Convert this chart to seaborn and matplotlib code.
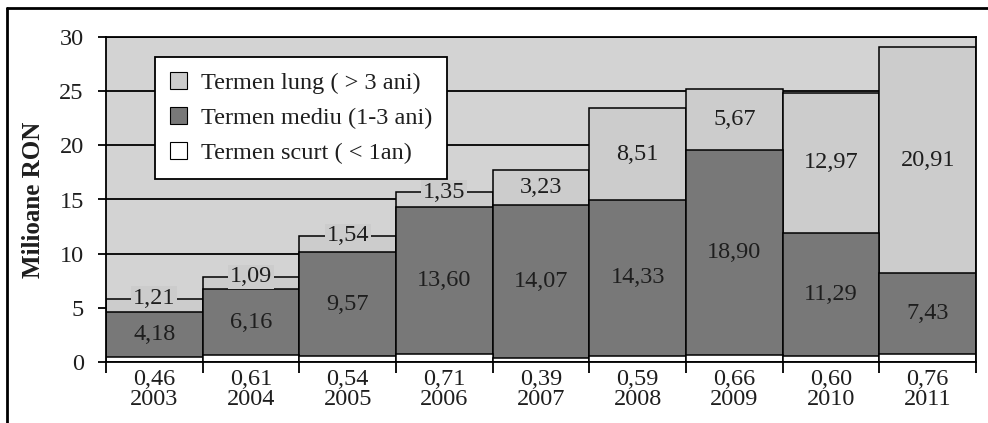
import matplotlib
matplotlib.use("Agg")
import matplotlib.pyplot as plt
import seaborn as sns
import pandas as pd
import numpy as np
from matplotlib.patches import Patch
from matplotlib.lines import Line2D

years = ["2003", "2004", "2005", "2006", "2007", "2008", "2009", "2010", "2011"]
short_term = [0.46, 0.61, 0.54, 0.71, 0.39, 0.59, 0.66, 0.60, 0.76]
medium_term = [4.18, 6.16, 9.57, 13.60, 14.07, 14.33, 18.90, 11.29, 7.43]
long_term = [1.21, 1.09, 1.54, 1.35, 3.23, 8.51, 5.67, 12.97, 20.91]
legend_labels = ["Termen lung ( > 3 ani)", "Termen mediu (1-3 ani)", "Termen scurt ( < 1an)"]

C_LONG = "#cccccc"
C_MED = "#787878"
C_SHORT = "#ffffff"
C_BG = "#d3d3d3"

sns.set_theme(style="white")
plt.rcParams['font.family'] = ['Liberation Serif', 'DejaVu Serif']

fig = plt.figure(figsize=(9.88, 4.23), dpi=100)
ax = fig.add_axes([106/988, 1-362/423, 870/988, 325/423])
ax.set_facecolor(C_BG)

s = np.array(short_term)
m = np.array(medium_term)
l = np.array(long_term)
df = pd.DataFrame({"year": years,
                   "total": s + m + l,
                   "sm": s + m,
                   "s": s})

common = dict(x="year", width=1, edgecolor="black", linewidth=1.1,
              saturation=1, ax=ax, errorbar=None)
sns.barplot(data=df, y="total", color=C_LONG, **common)
sns.barplot(data=df, y="sm", color=C_MED, **common)
sns.barplot(data=df, y="s", color=C_SHORT, **common)

fmt = lambda v: f"{v:.2f}".replace(".", ",")
FS = 17.5
TC = "#1e1e1e"
for i in range(len(years)):
    ax.text(i, s[i] + m[i] / 2, fmt(m[i]), ha="center", va="center", fontsize=FS, color=TC, zorder=5)
    top = s[i] + m[i] + l[i]
    if l[i] < 2:
        ax.text(i, top, fmt(l[i]), ha="center", va="center", fontsize=FS, color=TC, zorder=5,
                bbox=dict(facecolor=C_LONG, edgecolor="none", pad=1.2))
    else:
        ax.text(i, s[i] + m[i] + l[i] / 2, fmt(l[i]), ha="center", va="center", fontsize=FS,
                color=TC, zorder=5)

ax.set_xlim(-0.5, 8.5)
ax.set_ylim(0, 30)
ax.set_yticks(np.arange(0, 31, 5))
ax.set_xticks(range(len(years)))
ax.set_xticklabels([f"{fmt(s[i])}\n{years[i]}" for i in range(len(years))], linespacing=0.92)
ax.set_xticks(np.arange(-0.5, 9, 1), minor=True)
ax.tick_params(axis="x", which="major", length=0, pad=5, labelsize=FS, labelcolor=TC)
ax.tick_params(axis="x", which="minor", length=8, width=1.3, direction="out", color="black", bottom=True)
ax.tick_params(axis="y", which="major", length=6, width=1.3, direction="out", color="black",
               pad=10, labelsize=FS, labelcolor=TC, left=True)

ax.set_axisbelow(True)
ax.yaxis.grid(True, color="black", linewidth=1.3)
ax.xaxis.grid(False)
for sp in ax.spines.values():
    sp.set_visible(True)
    sp.set_color("black")
    sp.set_linewidth(1.3)

ax.set_xlabel("")
ax.set_ylabel("Milioane RON", fontsize=18, fontweight="bold", labelpad=10, color=TC)

handles = [Patch(facecolor=C_LONG, edgecolor="black", linewidth=0.8),
           Patch(facecolor=C_MED, edgecolor="black", linewidth=0.8),
           Patch(facecolor=C_SHORT, edgecolor="black", linewidth=0.8)]
leg = ax.legend(handles, legend_labels, loc="upper left", bbox_to_anchor=(49/870, 1-20/325),
                frameon=True, fancybox=False, framealpha=1, edgecolor="black", facecolor="white",
                fontsize=FS, handlelength=0.7, handleheight=0.7, borderpad=0.6,
                labelspacing=0.55, handletextpad=0.6, borderaxespad=0)
leg.get_frame().set_linewidth(1.3)
for t in leg.get_texts():
    t.set_color(TC)

fig.add_artist(Line2D([7/988, 7/988], [0, 1-8/423], transform=fig.transFigure, color="black", lw=2))
fig.add_artist(Line2D([7/988, 1], [1-8/423, 1-8/423], transform=fig.transFigure, color="black", lw=2))

fig.savefig("out.png", dpi=100, facecolor="white")
